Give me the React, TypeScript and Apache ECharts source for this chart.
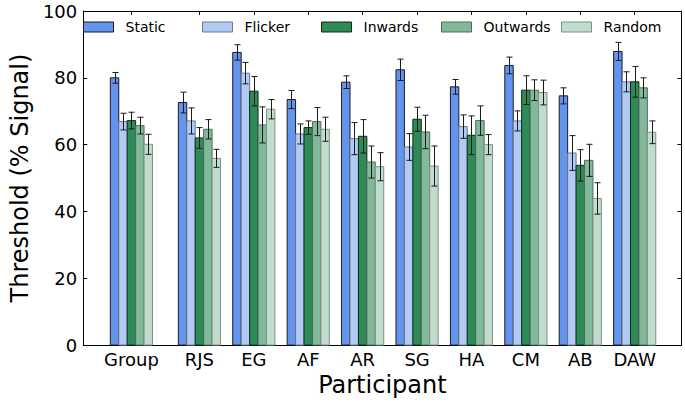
import React, { useEffect, useRef } from "react";
import * as echarts from "echarts";

const categories = ["Group", "RJS", "EG", "AF", "AR", "SG", "HA", "CM", "AB", "DAW"];
const positions = [0, 1.25, 2.25, 3.25, 4.25, 5.25, 6.25, 7.25, 8.25, 9.25];
const seriesNames = ["Static", "Flicker", "Inwards", "Outwards", "Random"];

const staticVals = [80, 72.6, 87.6, 73.5, 78.7, 82.4, 77.3, 83.7, 74.6, 87.9];
const staticErr = [1.6, 3.1, 2.3, 2.7, 1.9, 3.2, 2.2, 2.5, 2.4, 2.7];
const flickerVals = [66.9, 67.1, 81.4, 63.2, 61.8, 59.3, 65.4, 67.1, 57.5, 78.8];
const flickerErr = [2.5, 3.9, 3.2, 3.0, 4.8, 4.0, 3.5, 3.0, 5.2, 3.0];
const inwardsVals = [67.2, 62.0, 76.0, 65.1, 62.5, 67.6, 62.8, 76.3, 53.8, 78.8];
const inwardsErr = [2.5, 3.1, 4.4, 2.0, 5.0, 3.6, 5.8, 4.3, 4.7, 4.6];
const outwardsVals = [65.7, 64.6, 65.9, 66.9, 54.8, 63.8, 67.2, 76.3, 55.3, 77.0];
const outwardsErr = [2.5, 2.9, 5.4, 4.2, 4.8, 5.0, 4.4, 3.1, 4.8, 3.0];
const randomVals = [60.1, 55.9, 70.6, 64.6, 53.4, 53.6, 60.0, 75.6, 43.9, 63.7];
const randomErr = [3.0, 2.7, 2.9, 3.6, 4.2, 6.0, 3.0, 3.7, 4.7, 3.4];

const allVals = [staticVals, flickerVals, inwardsVals, outwardsVals, randomVals];
const allErr = [staticErr, flickerErr, inwardsErr, outwardsErr, randomErr];
const fills = ["#6495ed", "#b1caf6", "#2e8b57", "#82b99a", "#c0dccd"];
const edges = ["#1a1a2a", "#6f7788", "#102a1a", "#4f6a5a", "#7d9186"];
const legendLefts = [83, 202, 321, 441, 561];

const FONT = "DejaVu Sans";
const BAR_W = 0.155;

export default function App() {
  const ref = useRef<HTMLDivElement>(null);
  useEffect(() => {
    if (!ref.current) return;
    const chart = echarts.init(ref.current, null, { renderer: "svg" });
    const series = seriesNames.map((name, k) => ({
      type: "custom",
      name,
      itemStyle: { color: fills[k], borderColor: edges[k], borderWidth: 1 },
      data: positions.map((p, i) => [p, allVals[k][i], allErr[k][i]]),
      encode: { x: 0, y: 1 },
      z: 2 + k,
      renderItem: (params: any, api: any) => {
        const x = api.value(0) + (k - 2) * BAR_W;
        const v = api.value(1);
        const e = api.value(2);
        const tl = api.coord([x - BAR_W / 2, v]);
        const br = api.coord([x + BAR_W / 2, 0]);
        const top = api.coord([x, v + e]);
        const bot = api.coord([x, v - e]);
        const cx = Math.round(top[0]) + 0.5;
        const capHalf = 3;
        return {
          type: "group",
          children: [
            {
              type: "rect",
              shape: { x: tl[0], y: tl[1], width: br[0] - tl[0], height: br[1] - tl[1] },
              style: { fill: fills[k], stroke: edges[k], lineWidth: 1 },
            },
            {
              type: "line",
              shape: { x1: cx, y1: top[1], x2: cx, y2: bot[1] },
              style: { stroke: "#1a1a1a", lineWidth: 1 },
            },
            {
              type: "line",
              shape: { x1: cx - capHalf, y1: top[1], x2: cx + capHalf, y2: top[1] },
              style: { stroke: "#1a1a1a", lineWidth: 1 },
            },
            {
              type: "line",
              shape: { x1: cx - capHalf, y1: bot[1], x2: cx + capHalf, y2: bot[1] },
              style: { stroke: "#1a1a1a", lineWidth: 1 },
            },
          ],
        };
      },
    }));

    const axisLine = { show: true, onZero: false, lineStyle: { color: "#000", width: 1 } };

    const option: any = {
      animation: false,
      backgroundColor: "#fff",
      textStyle: { fontFamily: FONT },
      grid: { left: 72.5, right: 3.5, top: 11, bottom: 54.5, containLabel: false },
      legend: seriesNames.map((n, i) => ({
        data: [n],
        left: legendLefts[i],
        top: 20,
        padding: 0,
        icon: "rect",
        itemWidth: 30,
        itemHeight: 10,
        selectedMode: false,
        itemStyle: { borderWidth: 1, borderColor: edges[i] },
        textStyle: { fontSize: 14, fontFamily: FONT, color: "#000", padding: [0, 0, 0, 7] },
      })),
      xAxis: [
        {
          type: "value",
          min: -0.885,
          max: 10.11,
          position: "bottom",
          name: "Participant",
          nameLocation: "middle",
          nameGap: 26,
          nameTextStyle: { fontSize: 24, fontFamily: FONT, color: "#000" },
          axisLine,
          axisTick: { show: true, inside: true, length: 4, customValues: positions, lineStyle: { color: "#000" } },
          axisLabel: {
            show: true,
            customValues: positions,
            fontSize: 18,
            fontFamily: FONT,
            color: "#000",
            margin: 5,
            formatter: (v: number) => {
              const i = positions.findIndex((p) => Math.abs(p - v) < 1e-6);
              return i >= 0 ? categories[i] : "";
            },
          },
          splitLine: { show: false },
        },
        {
          type: "value",
          min: -0.885,
          max: 10.11,
          position: "top",
          axisLine,
          axisTick: { show: true, inside: true, length: 4, customValues: positions, lineStyle: { color: "#000" } },
          axisLabel: { show: false },
          splitLine: { show: false },
        },
      ],
      yAxis: [
        {
          type: "value",
          min: 0,
          max: 100,
          interval: 20,
          position: "left",
          name: "Threshold (% Signal)",
          nameLocation: "middle",
          nameGap: 44,
          nameTextStyle: { fontSize: 24, fontFamily: FONT, color: "#000" },
          axisLine,
          axisTick: { show: true, inside: true, length: 4, lineStyle: { color: "#000" } },
          axisLabel: { fontSize: 18, fontFamily: FONT, color: "#000", margin: 6 },
          splitLine: { show: false },
        },
        {
          type: "value",
          min: 0,
          max: 100,
          interval: 20,
          position: "right",
          axisLine,
          axisTick: { show: true, inside: true, length: 4, lineStyle: { color: "#000" } },
          axisLabel: { show: false },
          splitLine: { show: false },
        },
      ],
      series,
    };
    chart.setOption(option);
    return () => chart.dispose();
  }, []);
  return (
    <div
      ref={ref}
      style={{ position: "fixed", left: 0, top: 0, width: 685, height: 402, background: "#fff" }}
    />
  );
}
